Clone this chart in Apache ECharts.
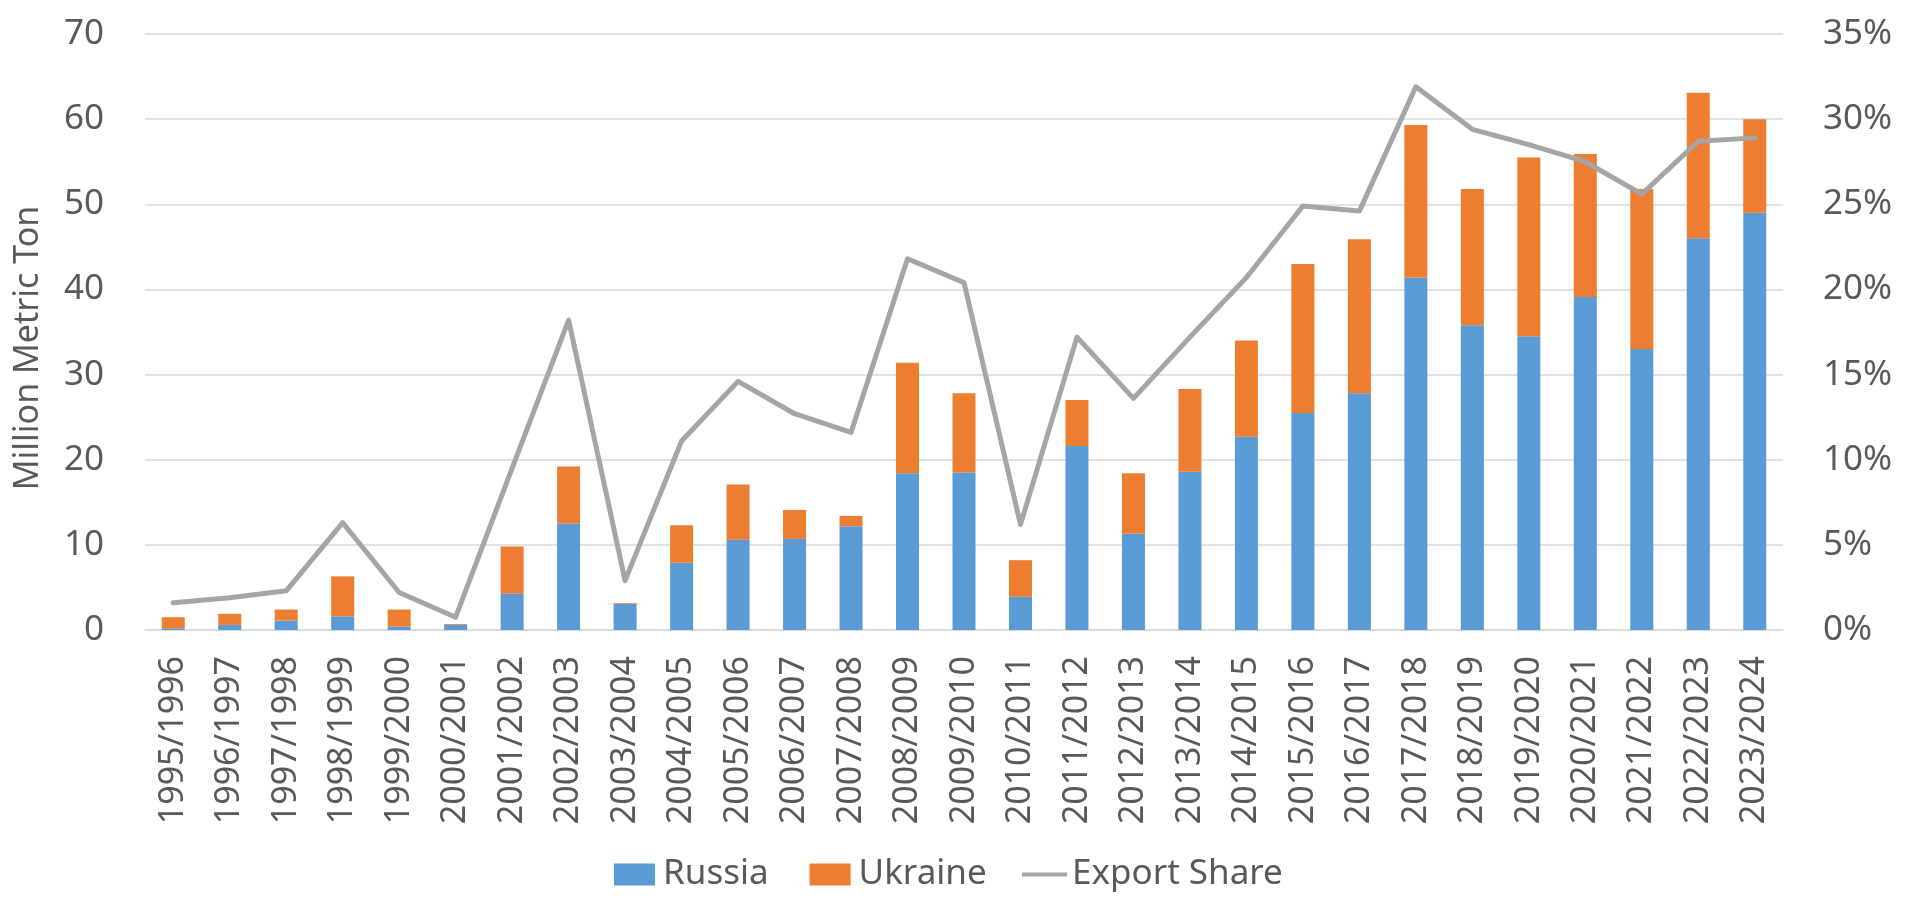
<!DOCTYPE html>
<html>
<head>
<meta charset="utf-8">
<title>Russia and Ukraine exports</title>
<script src="https://cdn.jsdelivr.net/npm/echarts@6/dist/echarts.min.js"></script>
<style>
  html, body { margin: 0; padding: 0; background: #fff; }
  #chart { width: 1913px; height: 899px; }
</style>
</head>
<body>
<div id="chart"></div>
<script>
// 数据
var years = ['1995/1996', '1996/1997', '1997/1998', '1998/1999', '1999/2000', '2000/2001',
  '2001/2002', '2002/2003', '2003/2004', '2004/2005', '2005/2006', '2006/2007', '2007/2008',
  '2008/2009', '2009/2010', '2010/2011', '2011/2012', '2012/2013', '2013/2014', '2014/2015',
  '2015/2016', '2016/2017', '2017/2018', '2018/2019', '2019/2020', '2020/2021', '2021/2022',
  '2022/2023', '2023/2024'];
var russia = [0.2, 0.6, 1.1, 1.6, 0.4, 0.6, 4.3, 12.5, 3.05, 7.9, 10.6, 10.7, 12.2, 18.4, 18.5,
  3.9, 21.6, 11.3, 18.6, 22.7, 25.5, 27.8, 41.4, 35.8, 34.5, 39.1, 33.0, 46.0, 49.0];
var ukraine = [1.3, 1.3, 1.3, 4.7, 2.0, 0.1, 5.5, 6.7, 0.1, 4.4, 6.5, 3.4, 1.2, 13.0, 9.3,
  4.3, 5.4, 7.1, 9.7, 11.3, 17.5, 18.1, 17.9, 16.0, 21.0, 16.8, 18.8, 17.1, 11.0];
// export share in percent
var exportShare = [1.6, 1.9, 2.3, 6.3, 2.2, 0.75, 9.5, 18.2, 2.9, 11.1, 14.6, 12.7, 11.6, 21.8,
  20.4, 6.2, 17.2, 13.6, 17.2, 20.7, 24.9, 24.6, 31.9, 29.4, 28.5, 27.5, 25.6, 28.7, 28.9];
var leftTicks = { min: 0, max: 70, interval: 10 };
var rightTicks = { min: 0, max: 35, interval: 5 };

var textColor = '#595959';
var gridColor = '#d9d9d9';
var font = '"Noto Sans", "Open Sans", sans-serif';

var myChart = echarts.init(document.getElementById('chart'));
var option = {
  animation: false,
  textStyle: { fontFamily: font, color: textColor },
  grid: { left: 145, right: 130, top: 34, bottom: 269 },
  legend: [
    {
      data: ['Russia', 'Ukraine'],
      left: 609, top: 852,
      itemWidth: 41, itemHeight: 22, itemGap: 41,
      icon: 'rect',
      textStyle: { fontSize: 35, color: textColor, fontFamily: font, padding: [0, 0, 0, 3] }
    },
    {
      // line legend is wider and thin
      data: ['Export Share'],
      left: 1017, top: 852,
      itemWidth: 45, itemHeight: 4,
      icon: 'rect',
      textStyle: { fontSize: 35, color: textColor, fontFamily: font }
    }
  ],
  xAxis: {
    type: 'category',
    data: years,
    axisTick: { show: false },
    axisLine: { lineStyle: { color: gridColor, width: 1.5 } },
    axisLabel: { rotate: 90, margin: 26, fontSize: 34, color: textColor, fontFamily: font }
  },
  yAxis: [
    {
      type: 'value',
      min: leftTicks.min, max: leftTicks.max, interval: leftTicks.interval,
      name: 'Million Metric Ton',
      nameLocation: 'middle',
      nameGap: 100,
      nameTextStyle: { fontSize: 34, color: textColor, fontFamily: font, padding: [0, 32, 0, 0] },
      axisLine: { show: false },
      axisTick: { show: false },
      axisLabel: { margin: 41, fontSize: 35, color: textColor, fontFamily: font },
      splitLine: { lineStyle: { color: gridColor, width: 1.5 } }
    },
    {
      type: 'value',
      min: rightTicks.min, max: rightTicks.max, interval: rightTicks.interval,
      axisLine: { show: false },
      axisTick: { show: false },
      axisLabel: { margin: 40, fontSize: 35, color: textColor, fontFamily: font, formatter: '{value}%' },
      splitLine: { show: false }
    }
  ],
  series: [
    {
      name: 'Russia', type: 'bar', stack: 'total', barWidth: 23,
      itemStyle: { color: '#5b9bd5' },
      data: russia
    },
    {
      name: 'Ukraine', type: 'bar', stack: 'total', barWidth: 23,
      itemStyle: { color: '#ed7d31' },
      data: ukraine
    },
    {
      name: 'Export Share', type: 'line', yAxisIndex: 1,
      symbol: 'none', z: 5,
      itemStyle: { color: '#a5a5a5' },
      lineStyle: { color: '#a5a5a5', width: 5, cap: 'round', join: 'round' },
      data: exportShare
    }
  ]
};
myChart.setOption(option);
window.addEventListener('resize', function () {
  myChart.resize();
});
</script>
</body>
</html>
